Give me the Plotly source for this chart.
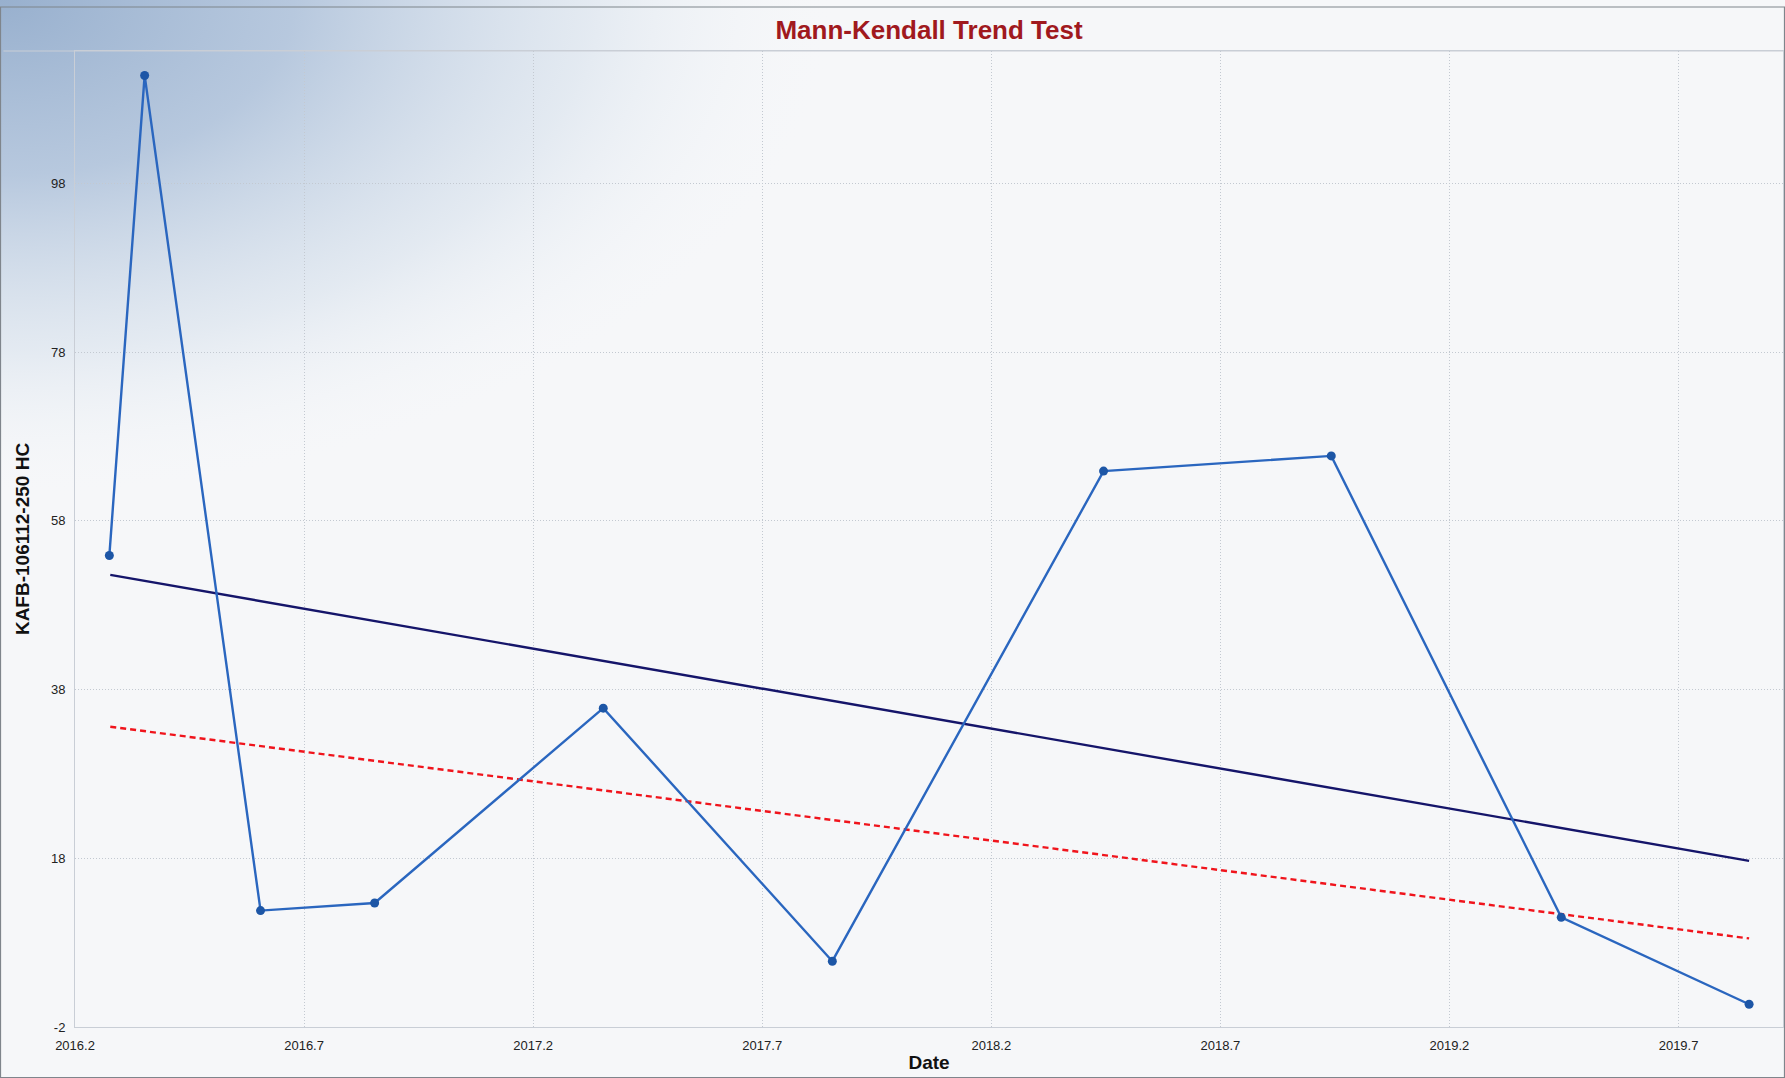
import base64
import plotly.graph_objects as go

# ---- data ----
dates = [2016.275, 2016.352, 2016.605, 2016.854, 2017.353, 2017.853, 2018.445, 2018.942, 2019.444, 2019.854]
values = [53.9, 110.8, 11.8, 12.7, 35.8, 5.8, 63.9, 65.7, 11.0, 0.7]

trend_x = [2016.277, 2019.854]
trend_y = [51.6, 17.7]          # trend line (solid navy)
conf_x = [2016.277, 2019.854]
conf_y = [33.6, 8.5]            # lower confidence line (red dashed)

x_ticks = [2016.2, 2016.7, 2017.2, 2017.7, 2018.2, 2018.7, 2019.2, 2019.7]
y_ticks = [-2, 18, 38, 58, 78, 98]

title_text = "Mann-Kendall Trend Test"
x_title = "Date"
y_title = "KAFB-106112-250 HC"

# ---- layout geometry ----
W, H = 1785, 1078
ML, MR, MT, MB = 75, 2, 51, 51
PW, PH = W - ML - MR, H - MT - MB

svg = f'''<svg xmlns="http://www.w3.org/2000/svg" width="{W}" height="{H}" viewBox="0 0 {W} {H}">
<defs>
<radialGradient id="g" cx="0" cy="0" r="1" gradientUnits="userSpaceOnUse" gradientTransform="translate(0,0) scale(840,500)">
<stop offset="0" stop-color="#98B0CE" stop-opacity="1"/>
<stop offset="0.35" stop-color="#B0C3DB" stop-opacity="0.9"/>
<stop offset="0.7" stop-color="#D4DFEB" stop-opacity="0.55"/>
<stop offset="1" stop-color="#F6F8FA" stop-opacity="0"/>
</radialGradient>
</defs>
<rect x="0" y="0" width="{W}" height="{H}" fill="#F6F7F9"/>
<rect x="0" y="0" width="{W}" height="{H}" fill="url(#g)"/>
</svg>'''
bg_src = "data:image/svg+xml;base64," + base64.b64encode(svg.encode()).decode()

fig = go.Figure()

fig.add_trace(go.Scatter(
    x=trend_x, y=trend_y, mode="lines",
    line=dict(color="#15156A", width=2.4), showlegend=False, hoverinfo="skip"))
fig.add_trace(go.Scatter(
    x=conf_x, y=conf_y, mode="lines",
    line=dict(color="#F0141C", width=2.4, dash="6px,4px"), showlegend=False, hoverinfo="skip"))
fig.add_trace(go.Scatter(
    x=dates, y=values, mode="lines+markers",
    line=dict(color="#2A66BF", width=2.4),
    marker=dict(color="#1D56A6", size=9),
    showlegend=False))

font_family = "Liberation Sans, Arial, sans-serif"
grid_col = "#C3C9D1"

fig.update_layout(
    width=W, height=H,
    margin=dict(l=ML, r=MR, t=MT, b=MB, autoexpand=False),
    paper_bgcolor="#F6F7F9",
    plot_bgcolor="rgba(0,0,0,0)",
    font=dict(family=font_family, color="#222222"),
    title=dict(text=f"<b>{title_text}</b>", x=(ML + PW / 2) / W, xanchor="center",
               y=1 - 30 / H, yanchor="middle",
               font=dict(size=26, color="#A0191E", family=font_family)),
    images=[dict(source=bg_src, xref="paper", yref="paper",
                 x=-ML / PW, y=1 + MT / PH, sizex=W / PW, sizey=H / PH,
                 xanchor="left", yanchor="top", sizing="stretch", layer="below")],
    xaxis=dict(
        range=[2016.2, 2019.928], tickvals=x_ticks, ticktext=[f"{v:.1f}" for v in x_ticks],
        showgrid=True, gridcolor=grid_col, griddash="1px,2px", gridwidth=1,
        showline=True, linecolor="#C9CED6", linewidth=1, mirror=True,
        zeroline=False, ticks="", ticklabelstandoff=6,
        tickfont=dict(size=13, color="#222222"),
        title=dict(text=f"<b>{x_title}</b>", font=dict(size=19, color="#111111"), standoff=4),
    ),
    yaxis=dict(
        range=[-2, 113.7], tickvals=y_ticks, ticktext=[str(v) for v in y_ticks],
        showgrid=True, gridcolor=grid_col, griddash="1px,2px", gridwidth=1,
        showline=True, linecolor="#C9CED6", linewidth=1, mirror=True,
        zeroline=False, ticks="", ticklabelstandoff=6,
        tickfont=dict(size=13, color="#222222"),
        title=dict(text=f"<b>{y_title}</b>", font=dict(size=19, color="#111111"), standoff=16),
    ),
    shapes=[
        dict(type="rect", xref="paper", yref="paper",
             x0=-ML / PW + 0.0003, x1=1 + MR / PW - 0.0003,
             y0=-MB / PH + 0.0005, y1=1 + (MT - 7) / PH,
             line=dict(color="#7F858C", width=1.2), fillcolor="rgba(0,0,0,0)", layer="below"),
        dict(type="line", xref="paper", yref="paper",
             x0=-ML / PW + 0.002, x1=1, y0=1, y1=1,
             line=dict(color="#C9CED6", width=1), layer="below"),
    ],
)

fig.write_html("out.html", config={"displayModeBar": False},
               post_script="document.body.style.margin='0';document.body.style.overflow='hidden';")
